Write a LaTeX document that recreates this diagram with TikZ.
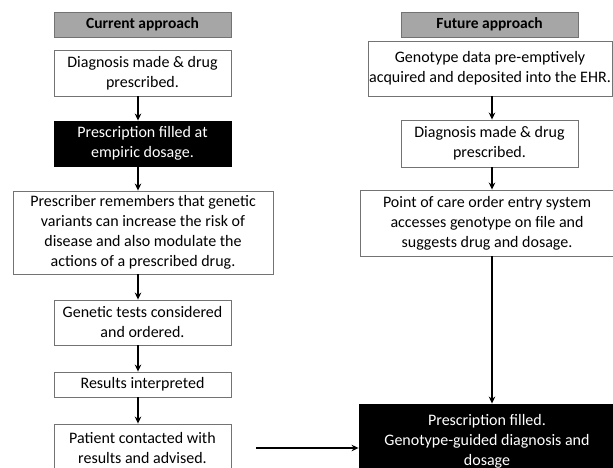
\documentclass[tikz,border=0pt]{standalone}
\usepackage{fontspec}
\setmainfont{Carlito}
\usetikzlibrary{arrows.meta}
\begin{document}
\begin{tikzpicture}[x=1pt,y=-1pt,
  box/.style={draw=black!55, line width=0.9pt, fill=white, align=center, inner sep=0pt,
    font=\fontsize{16}{20}\selectfont},
  darkbox/.style={box, fill=black, text=white, draw=black},
  hdr/.style={box, fill=black!35, font=\bfseries\fontsize{15.5}{18}\selectfont},
  arr/.style={-{Stealth[length=7pt,width=6.5pt]}, line width=1.3pt}]
\useasboundingbox (0,0) rectangle (613,468);
% left column
\node[hdr, minimum width=177, minimum height=25] (hc) at (142.5,24.5) {Current approach};
\node[box, minimum width=177, minimum height=46] (d1) at (142.5,73) {Diagnosis made \& drug\\prescribed.};
\node[darkbox, minimum width=177, minimum height=45] (p1) at (142.5,143.5) {Prescription filled at\\empiric dosage.};
\node[box, minimum width=260, minimum height=83] (pr) at (143,232.5) {Prescriber remembers that genetic\\variants can increase the risk of\\disease and also modulate the\\actions of a prescribed drug.};
\node[box, minimum width=177, minimum height=45] (gt) at (142.5,322.5) {Genetic tests considered\\and ordered.};
\node[box, minimum width=177, minimum height=25] (ri) at (142.5,384.5) {Results interpreted};
\node[box, minimum width=177, minimum height=48] (pc) at (142.5,448) {Patient contacted with\\results and advised.};
% right column
\node[hdr, minimum width=177, minimum height=25] (hf) at (489.5,24.5) {Future approach};
\node[box, minimum width=244, minimum height=55] (gd) at (490,68.5) {Genotype data pre-emptively\\acquired and deposited into the EHR.};
\node[box, minimum width=177, minimum height=47] (d2) at (489.5,143.5) {Diagnosis made \& drug\\prescribed.};
\node[box, minimum width=254, minimum height=66] (poc) at (487,223) {Point of care order entry system\\accesses genotype on file and\\suggests drug and dosage.};
\node[darkbox, minimum width=256, minimum height=74] (fin) at (487,441) {Prescription filled.\\Genotype-guided diagnosis and\\dosage};
% arrows
\coordinate (la) at (138,0);
\coordinate (ra) at (492,0);
\draw[arr] (d1.south -| la) -- (p1.north -| la);
\draw[arr] (p1.south -| la) -- (pr.north -| la);
\draw[arr] (pr.south -| la) -- (gt.north -| la);
\draw[arr] (gt.south -| la) -- (ri.north -| la);
\draw[arr] (ri.south -| la) -- (pc.north -| la);
\draw[arr] (gd.south -| ra) -- (d2.north -| ra);
\draw[arr] (d2.south -| ra) -- (poc.north -| ra);
\draw[arr] (poc.south -| ra) -- (fin.north -| ra);
\coordinate (hs) at (256,448);
\draw[arr] (hs) -- (hs -| fin.west);
\end{tikzpicture}
\end{document}
